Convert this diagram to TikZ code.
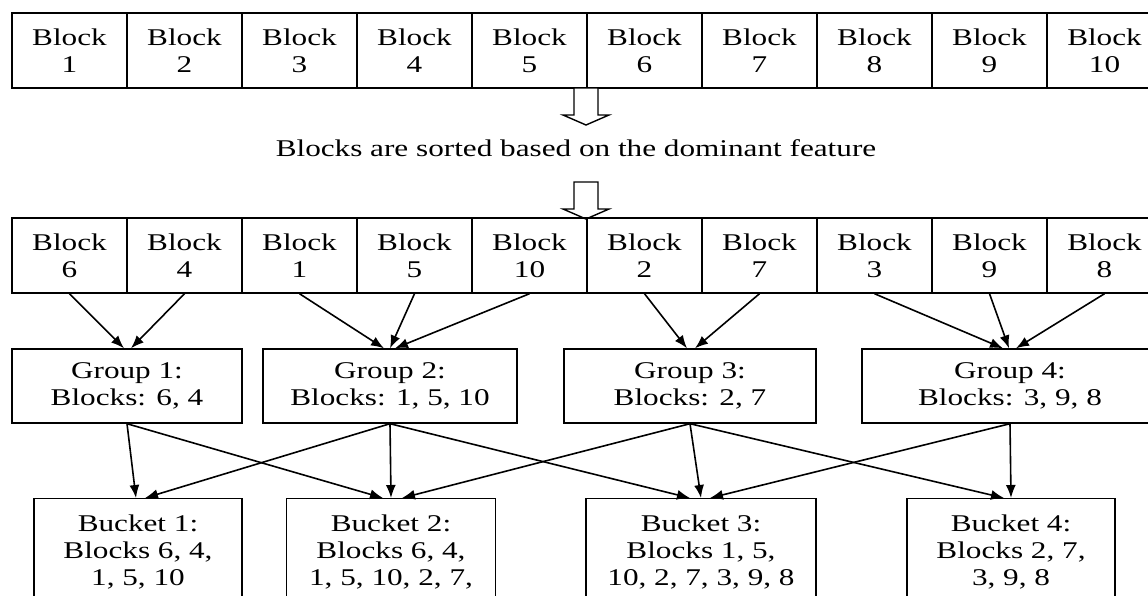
\documentclass[tikz,border=0pt]{standalone}
\usepackage{fontspec}
\setmainfont[FakeStretch=1.3]{Liberation Serif}
\usetikzlibrary{arrows.meta}

\tikzset{
  cell/.style={draw, line width=1.4pt, minimum width=115pt, minimum height=75pt, inner sep=0pt, align=center},
  grp/.style={draw, line width=1.4pt, minimum height=74pt, inner sep=0pt, align=center},
  bucket/.style={draw, line width=1.4pt, anchor=north, inner xsep=0pt, inner ysep=16pt, align=center},
  arr/.style={-{Latex[length=13pt,width=10pt]}, line width=1.6pt},
  bigarrow/.style={draw, line width=1.4pt, fill=white}
}
\newcommand{\bigdown}[1]{\draw[bigarrow,shift={(#1)}] (-12,0) -- (-12,27) -- (-23,27) -- (0,37) -- (23,27) -- (12,27) -- (12,0) -- cycle;}

\begin{document}
\begin{tikzpicture}[x=1pt,y=-1pt,font=\fontsize{24}{27}\selectfont]
\useasboundingbox (0,0) rectangle (1148,595);
\clip (0,0) rectangle (1148,595);

% blocks before sorting
\foreach \n in {1,...,10}
  \node[cell] (a\n) at ({12+115*(\n-0.5)},50.5) {Block\\\n};

\coordinate (h1) at (586,88);
\bigdown{h1}
\node (sorted) at (576,148) {Blocks are sorted based on the dominant feature};
\coordinate (h2) at (586,182);
\bigdown{h2}

% sorted blocks
\foreach \n [count=\i] in {6,4,1,5,10,2,7,3,9,8}
  \node[cell] (b\n) at ({12+115*(\i-0.5)},255.5) {Block\\\n};

% groups
\node[grp, minimum width=230pt] (g1) at (127,386) {Group 1:\\Blocks: 6, 4};
\node[grp, minimum width=254pt] (g2) at (390,386) {Group 2:\\Blocks: 1, 5, 10};
\node[grp, minimum width=252pt] (g3) at (690,386) {Group 3:\\Blocks: 2, 7};
\node[grp, minimum width=296pt] (g4) at (1010,386) {Group 4:\\Blocks: 3, 9, 8};

% buckets
\node[bucket, minimum width=208pt] (k1) at (138,498) {Bucket 1:\\Blocks 6, 4,\\1, 5, 10};
\node[bucket, minimum width=209pt] (k2) at (391,498) {Bucket 2:\\Blocks 6, 4,\\1, 5, 10, 2, 7,};
\node[bucket, minimum width=230pt] (k3) at (701,498) {Bucket 3:\\Blocks 1, 5,\\10, 2, 7, 3, 9, 8};
\node[bucket, minimum width=208pt] (k4) at (1011,498) {Bucket 4:\\Blocks 2, 7,\\3, 9, 8};

\foreach \s/\t/\d in {b6/g1/-3, b4/g1/4, b1/g2/-6, b5/g2/0, b10/g2/5, b2/g3/-3, b7/g3/5, b3/g4/-7, b9/g4/-1, b8/g4/6}
  \draw[arr] (\s.south) -- ([xshift=\d pt]\t.north);

\foreach \s/\t/\d in {g1/k1/-2, g1/k2/-8, g2/k1/7, g2/k2/0, g2/k3/-11, g3/k2/11, g3/k3/0, g3/k4/-7, g4/k3/9, g4/k4/0}
  \draw[arr] (\s.south) -- ([xshift=\d pt]\t.north);
\end{tikzpicture}
\end{document}
